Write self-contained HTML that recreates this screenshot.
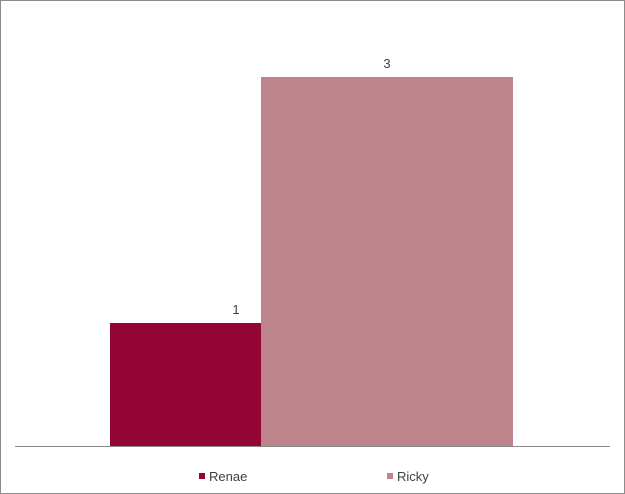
<!DOCTYPE html>
<html><head><meta charset="utf-8"><style>
html,body{margin:0;padding:0;background:#fff}
svg{display:block;font-family:"Liberation Sans",sans-serif}
</style></head><body>
<svg width="625" height="494" id="chart">
<rect x="0.5" y="0.5" width="624" height="493" fill="#fff" stroke="#8c8c8c"/>
<line x1="15" y1="446.5" x2="610" y2="446.5" stroke="#8c8c8c" stroke-width="1"/>
<g id="bars"></g>
<g id="legend"></g>
</svg>
<script>
const seriesNames = ["Renae", "Ricky"];
const seriesValues = [1, 3];
const seriesColors = ["#930534", "#be848c"];
const barLefts = [110, 261];
const barRights = [261, 513];
const baseY = 446, pxPerUnit = 123;
function yScale(v){ return baseY - v * pxPerUnit; }
const NS = "http://www.w3.org/2000/svg";
const bars = document.getElementById("bars");
seriesValues.forEach((v, i) => {
  const r = document.createElementNS(NS, "rect");
  r.setAttribute("x", barLefts[i]);
  r.setAttribute("y", yScale(v));
  r.setAttribute("width", barRights[i] - barLefts[i]);
  r.setAttribute("height", baseY - yScale(v));
  r.setAttribute("fill", seriesColors[i]);
  
  
  bars.appendChild(r);
  const t = document.createElementNS(NS, "text");
  t.setAttribute("x", barLefts[i] + 126);
  t.setAttribute("y", yScale(v) - 9);
  t.setAttribute("text-anchor", "middle");
  t.setAttribute("font-size", "13");
  t.setAttribute("fill", "#404040");
  t.textContent = v;
  
  
  bars.appendChild(t);
});
const legend = document.getElementById("legend");
const legendX = [199, 387];
seriesNames.forEach((n, i) => {
  const g = document.createElementNS(NS, "g");
  
  
  const s = document.createElementNS(NS, "rect");
  s.setAttribute("x", legendX[i]); s.setAttribute("y", 473);
  s.setAttribute("width", 6); s.setAttribute("height", 6);
  s.setAttribute("fill", seriesColors[i]);
  g.appendChild(s);
  const t = document.createElementNS(NS, "text");
  t.setAttribute("x", legendX[i] + 10); t.setAttribute("y", 481);
  t.setAttribute("font-size", "13"); t.setAttribute("fill", "#404040");
  t.textContent = n;
  g.appendChild(t);
  legend.appendChild(g);
});
</script>
</body></html>
